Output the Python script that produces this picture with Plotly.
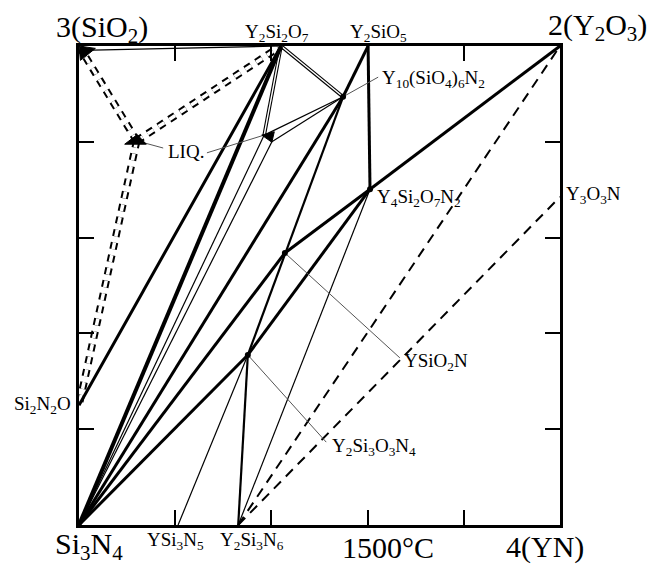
import plotly.graph_objects as go

# ---- phase compositions (x: eq. fraction Y, y: eq. fraction O)
phases  = ["Si3N4", "Si2N2O", "SiO2", "Y2Si2O7", "Y2SiO5", "Y10", "Y4Si2O7N2", "YSiO2N",
           "Y2Si3O3N4", "YSi3N5", "Y2Si3N6", "Y2O3", "Y3O3N", "LIQ1", "LIQ2", "LIQ2b",
           "SiO2b", "YN"]
phase_x = [0.0, 0.0, 0.0, 0.420, 0.601, 0.549, 0.605, 0.428,
           0.351, 0.206, 0.331, 1.0, 1.0, 0.120, 0.385, 0.401, 0.004, 1.0]
phase_y = [0.0, 0.250, 1.0, 1.0, 1.0, 0.894, 0.701, 0.568,
           0.355, 0.0, 0.0, 1.0, 0.685, 0.802, 0.814, 0.800, 0.991, 0.0]

# ---- tie lines (pairs of phases)
thick_ties = [("Si2N2O", "Y2Si2O7"), ("Si3N4", "Y10"),
              ("Si3N4", "YSiO2N"), ("Si3N4", "Y2Si3O3N4"), ("YSiO2N", "Y4Si2O7N2"),
              ("Y4Si2O7N2", "Y2O3"), ("Y2SiO5", "Y4Si2O7N2"), ("Y2SiO5", "Y10"),
              ("Y4Si2O7N2", "Y2Si3O3N4")]
heavy_ties = [("Si3N4", "Y2Si2O7")]
medium_ties = [("Y10", "Y2Si3O3N4"), ("Y2Si3O3N4", "Y2Si3N6")]
thin_ties = [("Y2Si3O3N4", "YSi3N5"), ("Y4Si2O7N2", "Y2Si3N6"), ("Si3N4", "LIQ2"),
             ("Si3N4", "LIQ2b"), ("LIQ2", "Y10"), ("LIQ2b", "Y10"), ("SiO2b", "Y2Si2O7")]
double_ties = [("Y2Si2O7", "Y10"), ("Y2Si2O7", "LIQ2")]
double_dashed_ties = [("SiO2", "LIQ1"), ("LIQ1", "Y2Si2O7"), ("LIQ1", "Si2N2O")]
dashed_ties = [("Y2Si3N6", "Y2O3"), ("Y2Si3N6", "Y3O3N")]

# liquid regions / small black triangles
liq1_x = [0.095, 0.121, 0.140]
liq1_y = [0.795, 0.815, 0.795]
liq2_x = [0.380, 0.406, 0.401]
liq2_y = [0.814, 0.821, 0.799]
corner_x = [0.0, 0.034, 0.003]
corner_y = [1.0, 0.995, 0.970]
dot_phases = ["Y10", "Y4Si2O7N2", "YSiO2N", "Y2Si3O3N4"]

# ---- labels
big_labels = ["3(SiO<sub>2</sub>)", "2(Y<sub>2</sub>O<sub>3</sub>)", "Si<sub>3</sub>N<sub>4</sub>",
              "1500°C", "4(YN)"]
big_x = [0.048, 1.079, 0.021, 0.642, 0.969]
big_y = [1.035, 1.040, -0.044, -0.046, -0.046]

small_labels = ["Y<sub>2</sub>Si<sub>2</sub>O<sub>7</sub>", "Y<sub>2</sub>SiO<sub>5</sub>",
                "Y<sub>10</sub>(SiO<sub>4</sub>)<sub>6</sub>N<sub>2</sub>",
                "Y<sub>4</sub>Si<sub>2</sub>O<sub>7</sub>N<sub>2</sub>", "Y<sub>3</sub>O<sub>3</sub>N",
                "LIQ.", "YSiO<sub>2</sub>N", "Y<sub>2</sub>Si<sub>3</sub>O<sub>3</sub>N<sub>4</sub>",
                "Si<sub>2</sub>N<sub>2</sub>O", "YSi<sub>3</sub>N<sub>5</sub>",
                "Y<sub>2</sub>Si<sub>3</sub>N<sub>6</sub>"]
small_x = [0.412, 0.622, 0.626, 0.615, 1.008, 0.181, 0.672, 0.522, -0.012, 0.200, 0.360]
small_y = [1.028, 1.028, 0.931, 0.683, 0.689, 0.779, 0.340, 0.163, 0.250, -0.034, -0.034]
small_anchor = ["center", "center", "left", "left", "left", "left", "left", "left",
                "right", "center", "center"]

# leader lines: (start, end) in diagram coordinates
leader_x0 = [0.175, 0.266, 0.622, 0.667, 0.514]
leader_y0 = [0.787, 0.777, 0.935, 0.349, 0.173]
leader_to = ["LIQ1", "LIQ2", "Y10", "YSiO2N", "Y2Si3O3N4"]

ticks = [0.2, 0.4, 0.6, 0.8]


def P(name):
    i = phases.index(name)
    return phase_x[i], phase_y[i]


fig = go.Figure()


def seg(a, b, width, color="black", dash=None):
    (x0, y0), (x1, y1) = P(a), P(b)
    fig.add_trace(go.Scatter(x=[x0, x1], y=[y0, y1], mode="lines",
                             line=dict(color=color, width=width, dash=dash),
                             hoverinfo="skip", showlegend=False))


for a, b in dashed_ties:
    seg(a, b, 2, dash="10px,7px")
for a, b in double_dashed_ties:
    seg(a, b, 7.5, dash="7px,6px")
    seg(a, b, 3.5, color="white", dash="7px,6px")
for a, b in thin_ties:
    seg(a, b, 1.2)
for a, b in double_ties:
    seg(a, b, 3.6)
    seg(a, b, 1.4, color="white")
for a, b in medium_ties:
    seg(a, b, 2.2)
for a, b in thick_ties:
    seg(a, b, 3)
for a, b in heavy_ties:
    seg(a, b, 4)

# leaders
for x0, y0, t in zip(leader_x0, leader_y0, leader_to):
    x1, y1 = P(t)
    fig.add_trace(go.Scatter(x=[x0, x1], y=[y0, y1], mode="lines",
                             line=dict(color="#555", width=1), hoverinfo="skip",
                             showlegend=False))

# filled triangles
for xs, ys in [(liq1_x, liq1_y), (liq2_x, liq2_y), (corner_x, corner_y)]:
    fig.add_trace(go.Scatter(x=xs + [xs[0]], y=ys + [ys[0]], mode="lines", fill="toself",
                             fillcolor="black", line=dict(color="black", width=1),
                             hoverinfo="skip", showlegend=False))

fig.add_trace(go.Scatter(x=[P(n)[0] for n in dot_phases], y=[P(n)[1] for n in dot_phases],
                         mode="markers", marker=dict(color="black", size=6),
                         hoverinfo="skip", showlegend=False))

for t, x, y in zip(big_labels, big_x, big_y):
    fig.add_annotation(x=x, y=y, xref="paper", yref="paper", text=t, showarrow=False,
                       xanchor="center", yanchor="middle",
                       font=dict(family="Liberation Serif", size=30, color="black"))
for t, x, y, an in zip(small_labels, small_x, small_y, small_anchor):
    fig.add_annotation(x=x, y=y, xref="paper", yref="paper", text=t, showarrow=False,
                       xanchor=an, yanchor="middle",
                       font=dict(family="Liberation Serif", size=19, color="black"))

axis_style = dict(range=[0, 1], showgrid=False, zeroline=False, showline=True,
                  linecolor="black", linewidth=3, mirror="ticks", ticks="inside",
                  ticklen=15, tickwidth=2, tickcolor="black", tickvals=ticks,
                  showticklabels=False, fixedrange=True)
fig.update_xaxes(**axis_style)
fig.update_yaxes(**axis_style)

fig.update_layout(width=650, height=565, margin=dict(l=79, r=90, t=46, b=40),
                  plot_bgcolor="white", paper_bgcolor="white", showlegend=False)

fig.write_html("out.html", config={"displayModeBar": False},
               post_script="document.body.style.margin='0';document.body.style.overflow='hidden';")
